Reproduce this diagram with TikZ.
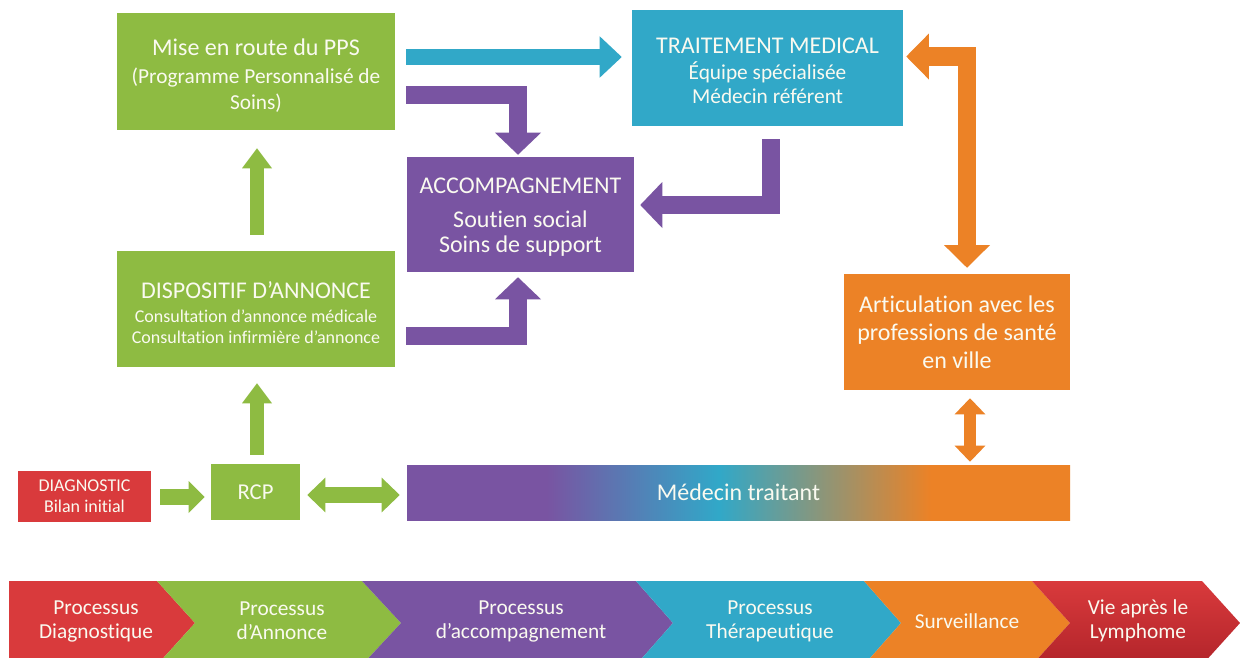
\documentclass[tikz,border=0pt]{standalone}
\usepackage{fontspec}
\setmainfont{Carlito}[Ligatures=NoCommon]
\usetikzlibrary{arrows.meta,calc}
\definecolor{cgreen}{RGB}{142,187,66}
\definecolor{cblue}{RGB}{49,168,200}
\definecolor{cpurple}{RGB}{121,84,162}
\definecolor{corange}{RGB}{236,130,38}
\definecolor{cred}{RGB}{217,58,60}
\definecolor{cdred}{RGB}{178,36,42}
\definecolor{ctext}{RGB}{250,250,240}
\pgfdeclarehorizontalshading{medgrad}{100bp}{color(0bp)=(cpurple); color(35.5bp)=(cpurple); color(48.5bp)=(cblue); color(64.5bp)=(corange); color(100bp)=(corange)}
\begin{document}
\begin{tikzpicture}[x=0.75pt,y=-0.75pt,
  box/.style={rectangle, inner sep=0pt, align=center, text=ctext},
  blk/.style={line join=miter, line cap=butt},
  barrow/.style={blk, draw=cblue, line width=12pt, -{Triangle[length=16.5pt,width=31pt,line width=0pt]}},
  parrow/.style={blk, draw=cpurple, line width=13.5pt, -{Triangle[length=16.5pt,width=34.5pt,line width=0pt]}},
  oarrow/.style={blk, draw=corange, line width=14pt, {Triangle[length=17pt,width=34.5pt,line width=0pt]}-{Triangle[length=17pt,width=34.5pt,line width=0pt]}},
  osarrow/.style={blk, draw=corange, line width=9pt, {Triangle[length=12pt,width=23pt,line width=0pt]}-{Triangle[length=12pt,width=23pt,line width=0pt]}},
  garrow/.style={blk, draw=cgreen, line width=10.5pt, -{Triangle[length=15pt,width=22.5pt,line width=0pt]}},
  gharrow/.style={blk, draw=cgreen, line width=12.5pt, -{Triangle[length=12pt,width=24pt,line width=0pt]}},
  gdarrow/.style={blk, draw=cgreen, line width=12.5pt, {Triangle[length=13.5pt,width=26pt,line width=0pt]}-{Triangle[length=13.5pt,width=26pt,line width=0pt]}},
  chevtext/.style={align=center, text=ctext, font=\fontsize{16}{18}\selectfont, inner sep=0pt}
]
\useasboundingbox (0,0) rectangle (1241,657);
\clip (0,0) rectangle (1241,657);
\fill[white] (0,0) rectangle (1241,657);

% boxes
\node[box, fill=cgreen, minimum width=208.5pt, minimum height=87.75pt, font=\fontsize{18}{20}\selectfont] (pps) at (256,71.5)
  {\rule{0pt}{18pt}Mise en route du PPS\\[1pt] \fontsize{16}{20}\selectfont (Programme Personnalisé de\\[-0.5pt] \fontsize{16}{20}\selectfont Soins)};
\node[box, fill=cblue, minimum width=203.25pt, minimum height=87pt, font=\fontsize{18}{18}\selectfont] (trait) at (767.5,68)
  {\rule{0pt}{16pt}TRAITEMENT MEDICAL\\[2pt] \fontsize{16}{18}\selectfont Équipe spécialisée\\ \fontsize{16}{18}\selectfont Médecin référent};
\node[box, fill=cpurple, minimum width=170.25pt, minimum height=86.25pt, font=\fontsize{18}{19}\selectfont] (acc) at (520.5,214.5)
  {\rule{0pt}{16pt}ACCOMPAGNEMENT\\[6.5pt] Soutien social\\ Soins de support};
\node[box, fill=cgreen, minimum width=208.5pt, minimum height=87pt, font=\fontsize{18}{16}\selectfont] (disp) at (256,309)
  {\rule{0pt}{18pt}DISPOSITIF D’ANNONCE\\[2pt] \fontsize{13.5}{16}\selectfont Consultation d’annonce médicale\\ \fontsize{13.5}{16}\selectfont Consultation infirmière d’annonce};
\node[box, fill=corange, minimum width=169.5pt, minimum height=87pt, font=\fontsize{18}{21}\selectfont] (art) at (957,332)
  {Articulation avec les\\ professions de santé\\ en ville};
\node[box, fill=cred, minimum width=99.75pt, minimum height=38.25pt, font=\fontsize{13.5}{16}\selectfont] (diag) at (84.5,496.5)
  {DIAGNOSTIC\\ Bilan initial};
\node[box, fill=cgreen, minimum width=66.75pt, minimum height=42pt, font=\fontsize{17}{20}\selectfont] (rcp) at (255.5,492)
  {RCP};
\node[box, shading=medgrad, minimum width=497.25pt, minimum height=41.25pt, font=\fontsize{18}{20}\selectfont] (med) at (738.5,492.5)
  {Médecin traitant};

% arrows
\draw[barrow] ($(pps.east)+(11,-14.5)$) -- ($(trait.west)+(-10,-11)$);
\draw[parrow] ($(pps.east)+(11,23.5)$) -| ($(acc.north)+(-2.5,-2)$);
\draw[parrow] ($(disp.east)+(11,27)$) -| ($(acc.south)+(-2.5,5)$);
\draw[parrow] ($(trait.south)+(3,13)$) |- ($(acc.east)+(6,-9.5)$);
\draw[oarrow] ($(art.north)+(10,-6)$) |- ($(trait.east)+(3,-11.5)$);
\draw[osarrow] ($(art.south)+(13,8)$) -- ($(med.north)+(231.5,-3)$);
\draw[garrow] ($(disp.north)+(1,-16)$) -- ($(pps.south)+(1,18)$);
\draw[garrow] ($(rcp.north)+(1.5,-9)$) -- ($(disp.south)+(1,16)$);
\draw[gharrow] ($(diag.east)+(9,0.5)$) -- ($(rcp.west)+(-6,5)$);
\draw[gdarrow] ($(rcp.east)+(7,3)$) -- ($(med.west)+(-7,2.5)$);

% bottom chevrons
\fill[cred] (9,581) -- (157,581) -- (195,623) -- (157,665) -- (9,665) -- cycle;
\fill[cgreen] (157,581) -- (362,581) -- (401,623) -- (362,665) -- (157,665) -- (195,623) -- cycle;
\fill[cpurple] (362,581) -- (636,581) -- (673,623) -- (636,665) -- (362,665) -- (401,623) -- cycle;
\fill[cblue] (636,581) -- (864,581) -- (901,623) -- (864,665) -- (636,665) -- (673,623) -- cycle;
\fill[corange] (864,581) -- (1032,581) -- (1070,623) -- (1032,665) -- (864,665) -- (901,623) -- cycle;
\shade[top color=cred, bottom color=cdred] (1032,581) -- (1202,581) -- (1240,623) -- (1202,665) -- (1032,665) -- (1070,623) -- cycle;

\node[chevtext] (c1) at (96,621) {Processus\\Diagnostique};
\node[chevtext] (c2) at (282,621) {Processus\\d’Annonce};
\node[chevtext] (c3) at (521,621) {Processus\\d’accompagnement};
\node[chevtext] (c4) at (770,621) {Processus\\Thérapeutique};
\node[chevtext] (c5) at (967,621) {Surveillance};
\node[chevtext] (c6) at (1138,621) {Vie après le\\Lymphome};
\end{tikzpicture}
\end{document}
